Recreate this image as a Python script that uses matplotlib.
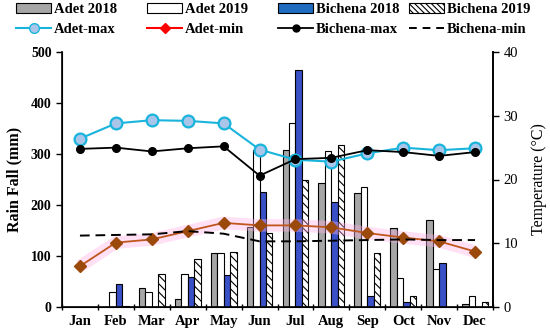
import matplotlib
matplotlib.use("Agg")
import matplotlib.pyplot as plt
import numpy as np
from matplotlib.patches import Patch
from matplotlib.lines import Line2D

months = ["Jan", "Feb", "Mar", "Apr", "May", "Jun", "Jul", "Aug", "Sep", "Oct", "Nov", "Dec"]
adet_2018 = [0, 0, 37, 16, 106, 157, 307, 244, 224, 154, 171, 6]
adet_2019 = [0, 30, 29, 65, 105, 307, 361, 306, 235, 56, 75, 21]
bichena_2018 = [0, 45, 0, 58, 62, 225, 465, 205, 22, 10, 87, 0]
bichena_2019 = [0, 2, 65, 95, 107, 146, 250, 317, 105, 21, 0, 10]

adet_max = [26.4, 28.8, 29.3, 29.2, 28.8, 24.7, 23.1, 22.8, 24.1, 25.0, 24.6, 24.9]
adet_min = [6.4, 10.1, 10.6, 11.9, 13.2, 12.8, 12.8, 12.5, 11.6, 10.9, 10.3, 8.7]
bichena_max = [24.8, 25.0, 24.4, 24.9, 25.2, 20.6, 23.2, 23.4, 24.6, 24.3, 23.7, 24.3]
bichena_min = [11.2, 11.3, 11.4, 11.9, 11.5, 10.3, 10.3, 10.4, 10.5, 10.6, 10.5, 10.5]

plt.rcParams['font.family'] = ['Liberation Serif', 'DejaVu Serif']
plt.rcParams['hatch.linewidth'] = 0.8

fig = plt.figure(figsize=(5.5, 3.33), dpi=100)
ax = fig.add_axes([62/550, 26/333, 431/550, 255/333])
ax2 = ax.twinx()

x = np.arange(len(months))
w = 0.18
blue = '#3a50c6'
ax.bar(x - 1.5*w, adet_2018, w, color='#a6a6a6', edgecolor='black', linewidth=0.8)
ax.bar(x - 0.5*w, adet_2019, w, color='white', edgecolor='black', linewidth=0.8)
ax.bar(x + 0.5*w, bichena_2018, w, color=blue, edgecolor='black', linewidth=0.8)
ax.bar(x + 1.5*w, bichena_2019, w, color='white', edgecolor='black', linewidth=0.8, hatch='\\\\\\\\')

ax.set_xlim(-0.5, 11.5)
ax.set_ylim(0, 500)
ax.set_yticks([0, 100, 200, 300, 400, 500])
ax.set_xticks(x)
ax.set_xticklabels(months, fontweight='bold', fontsize=10.5)
ax.set_xticks(np.arange(-0.5, 12, 1), minor=True)
ax.tick_params(axis='x', which='major', length=0, pad=6)
ax.tick_params(axis='x', which='minor', direction='inout', length=5, width=1)
ax.tick_params(axis='y', direction='out', length=4, width=1, labelsize=10)
for lab in ax.get_yticklabels():
    lab.set_fontweight('bold')
ax.set_ylabel('Rain Fall (mm)', fontweight='bold', fontsize=11.5, labelpad=6)
ax.spines['top'].set_visible(False)
ax2.spines['top'].set_visible(False)
for s in ['left', 'bottom', 'right']:
    ax.spines[s].set_linewidth(1.2)
ax2.spines['right'].set_linewidth(1.2)

# pink highlight behind Adet-min
ax2.plot(x, adet_min, color='#ffb3e6', lw=9, alpha=0.4, solid_capstyle='butt', zorder=1)
ax2.plot(x, adet_max, color='#19b4dc', lw=1.5, marker='o', markersize=8.5,
         markerfacecolor='#a9c6ea', markeredgecolor='#19b4dc', markeredgewidth=1.6, zorder=3)
ax2.plot(x, adet_min, color='#c0561e', lw=1.3, marker='D', markersize=6.5,
         markerfacecolor='#9c4a0c', markeredgecolor='#9c4a0c', zorder=3)
ax2.plot(x, bichena_max, color='black', lw=1.3, marker='o', markersize=5.5, zorder=4)
ax2.plot(x, bichena_min, color='black', lw=1.4, linestyle=(0, (5, 3)), zorder=3)
ax2.set_ylim(0, 40)
ax2.set_yticks([0, 10, 20, 30, 40])
ax2.tick_params(axis='y', direction='out', length=4, width=1, labelsize=10.5)
ax2.set_ylabel('Temperature (°C)', fontsize=11.5, labelpad=9)

fs = 10.5
cols = [
    [Patch(facecolor='#a6a6a6', edgecolor='black', linewidth=0.8, label='Adet 2018'),
     Line2D([], [], color='#19b4dc', lw=1.5, marker='o', markersize=7, markerfacecolor='#a9c6ea',
            markeredgecolor='#19b4dc', label='Adet-max')],
    [Patch(facecolor='white', edgecolor='black', linewidth=0.8, label='Adet 2019'),
     Line2D([], [], color='red', lw=1.5, marker='D', markersize=5, markerfacecolor='red', label='Adet-min')],
    [Patch(facecolor='#1f6cc0', edgecolor='black', linewidth=0.8, label='Bichena 2018'),
     Line2D([], [], color='black', lw=1.3, marker='o', markersize=5, label='Bichena-max')],
    [Patch(facecolor='white', edgecolor='black', linewidth=0.8, hatch='\\\\\\\\\\\\', label='Bichena 2019'),
     Line2D([], [], color='black', lw=1.4, linestyle=(0, (4, 3)), label='Bichena-min')],
]
xs = [16, 147, 278, 409]
for xp, hs in zip(xs, cols):
    leg = fig.legend(handles=hs, loc='upper left', bbox_to_anchor=(xp/550, 1 - 3/333),
                     frameon=False, handlelength=2.4, handleheight=0.7, handletextpad=0.2,
                     labelspacing=0.45, borderpad=0, borderaxespad=0,
                     prop={'family': ['Liberation Serif', 'DejaVu Serif'], 'weight': 'bold', 'size': fs})

fig.savefig('out.png', dpi=100)
